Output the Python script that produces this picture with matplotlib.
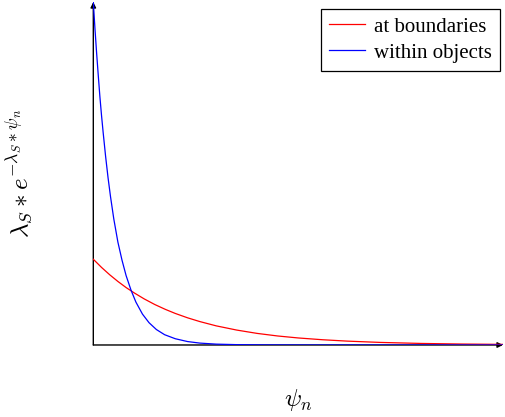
import matplotlib.pyplot as plt

plt.rcParams["mathtext.fontset"] = "cm"
plt.rcParams["font.family"] = ["Liberation Serif", "DejaVu Serif"]

# values (psi_n, weight)
boundary_x = [0, 0.1, 0.2, 0.3, 0.4, 0.5, 0.62, 0.75, 0.88, 1.0, 1.15, 1.3, 1.5,
              1.75, 2.0, 2.25, 2.5, 2.8, 3.1, 3.5, 4.0, 4.5, 5.0]
boundary_y = [1.00, 0.905, 0.819, 0.741, 0.670, 0.607, 0.538, 0.472, 0.415, 0.368,
              0.317, 0.273, 0.223, 0.174, 0.135, 0.105, 0.082, 0.061, 0.045,
              0.030, 0.018, 0.011, 0.007]

object_x = [0, 0.02, 0.04, 0.06, 0.08, 0.1, 0.12, 0.15, 0.18, 0.21, 0.25, 0.3,
            0.35, 0.4, 0.46, 0.52, 0.6, 0.68, 0.77, 0.87, 1.0, 1.15, 1.3, 1.5,
            1.75, 2.1, 2.6, 3.5, 5.0]
object_y = [4.00, 3.69, 3.41, 3.15, 2.90, 2.68, 2.48, 2.20, 1.95, 1.73, 1.47, 1.20,
            0.99, 0.81, 0.64, 0.50, 0.36, 0.26, 0.18, 0.12, 0.073, 0.040, 0.022,
            0.010, 0.004, 0.001, 0.0, 0.0, 0.0]

fig = plt.figure(figsize=(5.06, 4.17), dpi=100)
ax = fig.add_axes([0.1844, 0.1727, 0.8097, 0.8225])

ax.plot(boundary_x, boundary_y, color="red", lw=0.9, label="at boundaries", zorder=3)
ax.plot(object_x, object_y, color="blue", lw=0.9, label="within objects", zorder=3)

ax.set_xlim(0, 5)
ax.set_ylim(0, 4)
for s in ax.spines.values():
    s.set_visible(False)
ax.set_xticks([])
ax.set_yticks([])

# axis lines with arrow heads
arrow = dict(arrowstyle="-|>", color="black", lw=1.0, mutation_scale=8,
             shrinkA=0, shrinkB=0)
ax.annotate("", xy=(1.0, 0), xytext=(0, 0), xycoords="axes fraction",
            arrowprops=arrow, annotation_clip=False, zorder=2)
ax.annotate("", xy=(0, 1.0), xytext=(0, 0), xycoords="axes fraction",
            arrowprops=arrow, annotation_clip=False, zorder=2)

ax.set_xlabel(r"$\psi_n$", fontsize=18, labelpad=30)
ax.set_ylabel(r"$\lambda_S * e^{-\lambda_S * \psi_n}$", fontsize=18, labelpad=41)

leg = ax.legend(loc="upper right", bbox_to_anchor=(0.9927, 0.98), fontsize=15,
                frameon=True, fancybox=False, edgecolor="black", framealpha=1,
                handlelength=1.75, handletextpad=0.4, borderpad=0.4,
                labelspacing=0.3, borderaxespad=0)
leg.get_frame().set_linewidth(0.9)

plt.savefig("out.png", dpi=100)
